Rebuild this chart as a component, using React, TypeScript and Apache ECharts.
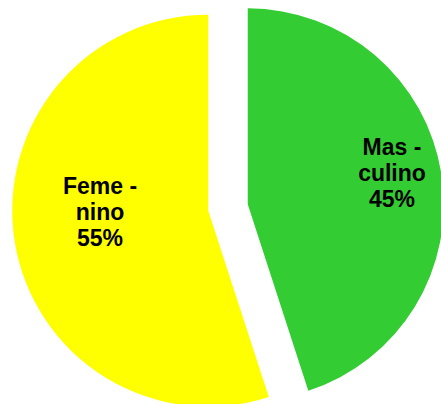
import React, { useEffect, useRef } from "react";
import * as echarts from "echarts";

const categories = ["Masculino", "Femenino"];
const labelWords = ["Mas -\nculino", "Feme -\nnino"];
const values = [45, 55];
const colors = ["#33CC33", "#FFFF00"];
const labelPositions: [number, number][] = [
  [392, 173],
  [100, 212],
];

export default function App() {
  const ref = useRef<HTMLDivElement>(null);
  useEffect(() => {
    if (!ref.current) return;
    const chart = echarts.init(ref.current, undefined, { renderer: "svg" });
    const total = values.reduce((a, b) => a + b, 0);
    chart.setOption({
      animation: false,
      backgroundColor: "#ffffff",
      graphic: categories.map((_, i) => ({
        type: "text",
        x: labelPositions[i][0],
        y: labelPositions[i][1],
        z: 100,
        silent: true,
        style: {
          text: `${labelWords[i]}\n${Math.round((values[i] / total) * 100)}%`,
          fill: "#000000",
          font: "bold 23px 'Liberation Sans', Arial, sans-serif",
          lineHeight: 26,
          align: "center",
          verticalAlign: "middle",
        },
      })),
      series: [
        {
          type: "pie",
          center: [228, 207.5],
          radius: [0, 196],
          startAngle: 90,
          clockwise: true,
          selectedMode: "multiple",
          selectedOffset: 20,
          avoidLabelOverlap: false,
          emphasis: { disabled: true },
          labelLine: { show: false },
          label: { show: false },
          data: categories.map((name, i) => ({
            name,
            value: values[i],
            selected: true,
            itemStyle: { color: colors[i], borderWidth: 0 },
            select: { itemStyle: { color: colors[i], borderWidth: 0 } },
          })),
        },
      ],
    });
    return () => chart.dispose();
  }, []);
  return (
    <div
      ref={ref}
      style={{ position: "absolute", left: 0, top: 0, width: 441, height: 404 }}
    />
  );
}
